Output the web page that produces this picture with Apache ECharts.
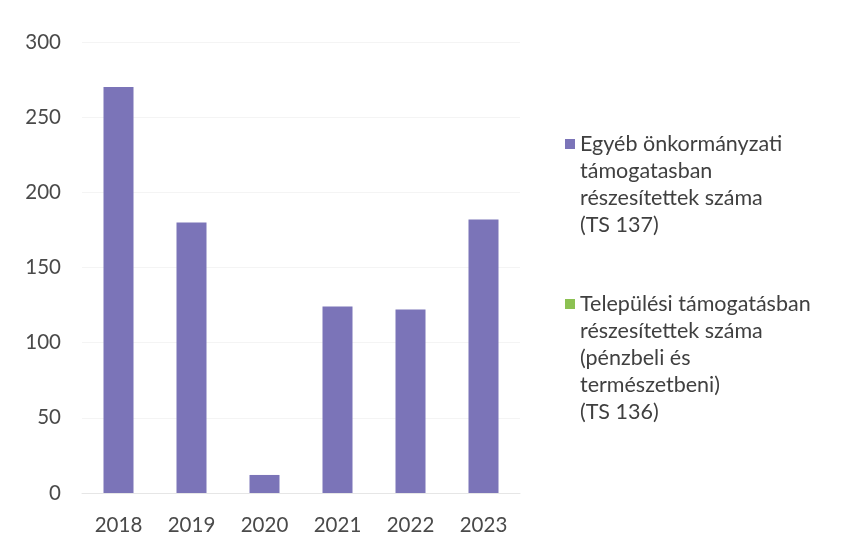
<!DOCTYPE html>
<html>
<head>
<meta charset="utf-8">
<script src="https://cdn.jsdelivr.net/npm/echarts@6/dist/echarts.min.js"></script>
<style>
  html, body { margin: 0; padding: 0; background: #fff; }
  #chart { width: 843px; height: 548px; }
</style>
</head>
<body>
<div id="chart"></div>
<script>
// data
const years = ['2018', '2019', '2020', '2021', '2022', '2023'];
const ts137 = [270, 180, 12, 124, 122, 182];
const ts136 = [0, 0, 0, 0, 0, 0];
const seriesNames = [
  'Egyéb önkormányzati támogatasban részesítettek száma (TS 137)',
  'Települési támogatásban részesítettek száma (pénzbeli és természetbeni) (TS 136)'
];
// how the legend text wraps
const legendLines = [
  ['Egyéb önkormányzati', 'támogatasban', 'részesítettek száma', '(TS 137)'],
  ['Települési támogatásban', 'részesítettek száma', '(pénzbeli és', 'természetbeni)', '(TS 136)']
];
const yTicks = [0, 50, 100, 150, 200, 250, 300];

const FONT = 'Lato';
const LH = 27;
const ICON = 10;
const legendFirstLine = [144, 304];

const chart = echarts.init(document.getElementById('chart'), null, { renderer: 'canvas' });

// the legend text is centred on the icon, so pad it with blank lines on top
// to keep the icon level with the first line
const legends = seriesNames.map((name, i) => {
  const n = legendLines[i].length;
  const text = new Array(n - 1).fill('').concat(legendLines[i]).join('\n');
  return {
    show: true,
    orient: 'vertical',
    left: 565,
    top: legendFirstLine[i] - (n - 1) * LH - LH / 2,
    padding: 0,
    itemWidth: ICON,
    itemHeight: ICON,
    icon: 'rect',
    selectedMode: false,
    data: [{ name: name }],
    formatter: () => text,
    textStyle: {
      fontFamily: FONT,
      fontSize: 21.5,
      lineHeight: LH,
      color: '#404040'
    }
  };
});

chart.setOption({
  animation: false,
  color: ['#7b74b8', '#8cc152'],
  grid: { left: 82, right: 323, top: 42, bottom: 55 },
  legend: legends,
  xAxis: {
    type: 'category',
    data: years,
    axisTick: { show: false },
    axisLine: { lineStyle: { color: '#e6e6e6', width: 1 } },
    axisLabel: { color: '#4a4a4a', fontFamily: FONT, fontSize: 20.5, margin: 22 }
  },
  yAxis: {
    type: 'value',
    min: yTicks[0],
    max: yTicks[yTicks.length - 1],
    interval: 50,
    axisLine: { show: false },
    axisTick: { show: false },
    splitLine: { lineStyle: { color: '#f4f4f4' } },
    axisLabel: { color: '#4a4a4a', fontFamily: FONT, fontSize: 20.5, margin: 21 }
  },
  series: [
    {
      name: seriesNames[0],
      type: 'bar',
      data: ts137,
      barWidth: 30,
      barGap: '-100%'
    },
    {
      name: seriesNames[1],
      type: 'bar',
      data: ts136,
      barWidth: 30
    }
  ]
});
</script>
</body>
</html>
